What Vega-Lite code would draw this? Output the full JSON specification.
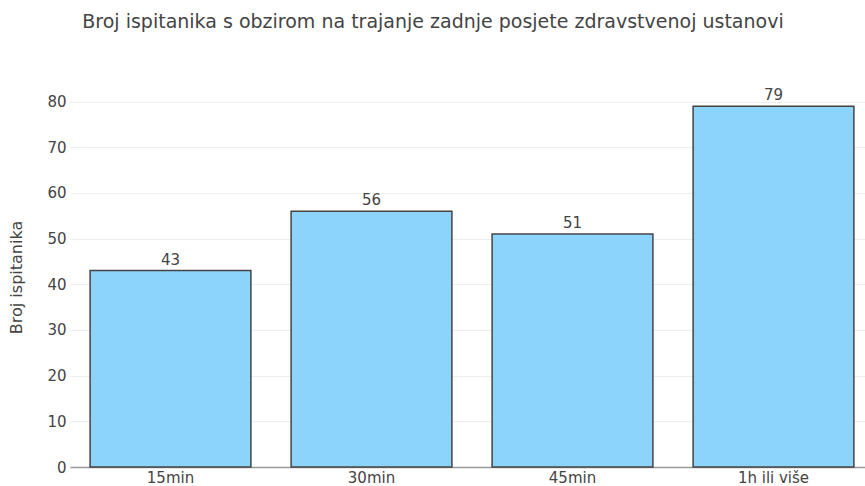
{
  "$schema": "https://vega.github.io/schema/vega-lite/v6.json",
  "autosize": "none",
  "width": 804,
  "height": 380,
  "padding": {"left": 70, "top": 87, "right": 0, "bottom": 19},
  "background": "white",
  "title": {
    "text": "Broj ispitanika s obzirom na trajanje zadnje posjete zdravstvenoj ustanovi",
    "font": "DejaVu Sans",
    "fontSize": 19,
    "fontWeight": "normal",
    "color": "#444444",
    "anchor": "middle",
    "dx": -39,
    "offset": 55
  },
  "data": {
    "values": [
      {"trajanje": "15min", "broj": 43},
      {"trajanje": "30min", "broj": 56},
      {"trajanje": "45min", "broj": 51},
      {"trajanje": "1h ili više", "broj": 79}
    ]
  },
  "config": {
    "view": {"stroke": null},
    "font": "DejaVu Sans"
  },
  "encoding": {
    "x": {
      "field": "trajanje",
      "type": "nominal",
      "sort": null,
      "scale": {"paddingInner": 0.2, "paddingOuter": 0.1},
      "axis": {
        "title": null,
        "labelAngle": 0,
        "labelFont": "DejaVu Sans",
        "labelFontSize": 15,
        "labelColor": "#444444",
        "labelPadding": 3,
        "ticks": false,
        "domainColor": "#999999",
        "domainWidth": 1.5
      }
    },
    "y": {
      "field": "broj",
      "type": "quantitative",
      "scale": {"domain": [0, 83.2], "nice": false},
      "axis": {
        "title": "Broj ispitanika",
        "titleFont": "DejaVu Sans",
        "titleFontSize": 16,
        "titleFontWeight": "normal",
        "titleColor": "#444444",
        "titleX": -46,
        "values": [0, 10, 20, 30, 40, 50, 60, 70, 80],
        "labelFont": "DejaVu Sans",
        "labelFontSize": 15,
        "labelColor": "#444444",
        "labelPadding": 4,
        "ticks": false,
        "domain": false,
        "gridColor": "#eeeeee",
        "gridWidth": 1
      }
    }
  },
  "layer": [
    {
      "mark": {"type": "bar", "fill": "#8dd4fc", "stroke": "#444444", "strokeWidth": 1.5}
    },
    {
      "mark": {"type": "text", "dy": -11, "fontSize": 15, "color": "#444444", "font": "DejaVu Sans"},
      "encoding": {"text": {"field": "broj", "type": "quantitative"}}
    }
  ]
}
